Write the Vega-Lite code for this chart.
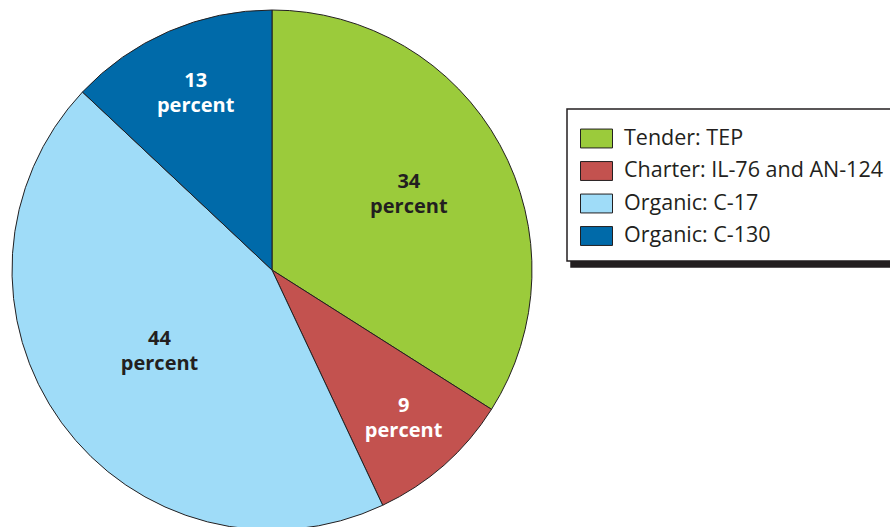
{
  "$schema": "https://vega.github.io/schema/vega-lite/v6.json",
  "width": 520,
  "height": 520,
  "autosize": {"type": "none"},
  "padding": {"left": 12, "top": 10, "right": 358, "bottom": 0},
  "background": "white",
  "data": {"values": [
    {"category": "Tender: TEP", "value": 34, "label": "34 percent", "rank": 1},
    {"category": "Charter: IL-76 and AN-124", "value": 9, "label": "9 percent", "rank": 2},
    {"category": "Organic: C-17", "value": 44, "label": "44 percent", "rank": 3},
    {"category": "Organic: C-130", "value": 13, "label": "13 percent", "rank": 4}
  ]},
  "encoding": {
    "theta": {"field": "value", "type": "quantitative", "stack": true},
    "order": {"field": "rank", "type": "quantitative", "sort": "ascending"}
  },
  "layer": [
    {
      "mark": {"type": "arc", "outerRadius": 260, "stroke": "#231f20", "strokeWidth": 1},
      "encoding": {
        "color": {
          "field": "category", "type": "nominal",
          "sort": ["Tender: TEP", "Charter: IL-76 and AN-124", "Organic: C-17", "Organic: C-130"],
          "scale": {
            "domain": ["Tender: TEP", "Charter: IL-76 and AN-124", "Organic: C-17", "Organic: C-130"],
            "range": ["#9bcb3b", "#c3524f", "#9fdcf8", "#006aa9"]
          },
          "legend": {
            "title": null, "orient": "none", "legendX": 555, "legendY": 99, "zindex": 2,
            "fillColor": "white", "strokeColor": "#231f20"
          }
        }
      }
    },
    {
      "mark": {"type": "text", "font": "Open Sans", "fontWeight": "bold", "fontSize": 20, "lineHeight": 25, "lineBreak": " ", "align": "center", "baseline": "middle", "dy": -13},
      "encoding": {
        "text": {"field": "label", "type": "nominal"},
        "radius": {"field": "value", "type": "quantitative", "scale": {"type": "linear", "zero": false, "domain": [9, 44], "range": [199, 139]}},
        "color": {
          "field": "category", "type": "nominal",
          "sort": ["Tender: TEP", "Charter: IL-76 and AN-124", "Organic: C-17", "Organic: C-130"],
          "scale": {
            "domain": ["Tender: TEP", "Charter: IL-76 and AN-124", "Organic: C-17", "Organic: C-130"],
            "range": ["#231f20", "#ffffff", "#231f20", "#ffffff"]
          },
          "legend": {
            "title": null, "orient": "none", "legendX": 559, "legendY": 105, "zindex": 1,
            "fillColor": "#231f20", "strokeColor": "#231f20", "labelColor": "#231f20", "symbolStrokeColor": "#231f20"
          }
        }
      }
    }
  ],
  "resolve": {"scale": {"color": "independent"}},
  "config": {
    "view": {"stroke": null},
    "legend": {
      "padding": 13,
      "strokeWidth": 1.5,
      "symbolType": "M-1,-0.59H1V0.59H-1Z",
      "symbolSize": 1024,
      "symbolStrokeColor": "#231f20",
      "symbolStrokeWidth": 1,
      "labelFont": "Open Sans",
      "labelFontSize": 21.5,
      "labelColor": "#231f20",
      "labelOffset": 11,
      "rowPadding": 4.5,
      "labelLimit": 400
    }
  }
}
